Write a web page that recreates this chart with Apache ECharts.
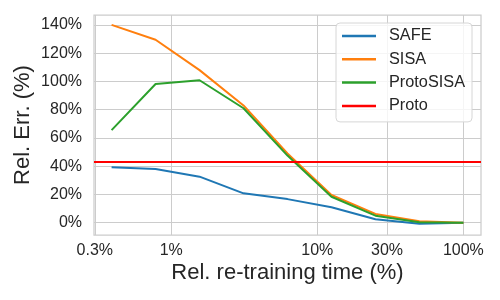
<!DOCTYPE html>
<html>
<head>
<meta charset="utf-8">
<script src="https://cdn.jsdelivr.net/npm/echarts@6/dist/echarts.min.js"></script>
<style>
html,body{margin:0;padding:0;background:#fff;}
#c{width:500px;height:300px;}
</style>
</head>
<body>
<div id="c"></div>
<script>
const retrainTime = [0.390625, 0.78125, 1.5625, 3.125, 6.25, 12.5, 25, 50, 100];
const safeErr = [39.2, 38.0, 32.6, 20.8, 16.7, 10.9, 2.4, -0.7, 0];
const sisaErr = [140, 129.5, 108, 83, 49, 19.6, 6.2, 1.0, 0];
const protoSisaErr = [65.5, 98.2, 100.8, 81, 47.5, 18.4, 5.0, 0.3, 0];
const protoErr = 43;
const xTicks = [0.3, 1, 10, 30, 100];
const yTicks = [0, 20, 40, 60, 80, 100, 120, 140];

const textColor = '#262626';
const gridColor = '#cccccc';
const fontFamily = '"Liberation Sans", Arial, sans-serif';

function pairs(xs, ys) { return xs.map((x, i) => [x, ys[i]]); }

const chart = echarts.init(document.getElementById('c'), null, {renderer: 'canvas'});
chart.setOption({
  animation: false,
  textStyle: {fontFamily: fontFamily, color: textColor},
  grid: {left: 94, right: 19, top: 15, bottom: 65, show: true, borderColor: gridColor, borderWidth: 1.25, backgroundColor: 'transparent'},
  xAxis: {
    type: 'log', logBase: 10, min: 0.296, max: 132,
    name: 'Rel. re-training time (%)', nameLocation: 'middle', nameGap: 26.5, nameMoveOverlap: false,
    nameTextStyle: {fontSize: 22, color: textColor, fontFamily: fontFamily},
    axisLine: {show: false},
    axisTick: {show: false, customValues: xTicks},
    axisLabel: {customValues: xTicks, formatter: v => v + '%', fontSize: 16, color: textColor, margin: 8, fontFamily: fontFamily},
    splitLine: {show: true, lineStyle: {color: gridColor, width: 1}},
    minorSplitLine: {show: false}
  },
  yAxis: {
    type: 'value', min: -8.7, max: 147,
    name: 'Rel. Err. (%)', nameLocation: 'middle', nameGap: 60, nameRotate: 90, nameMoveOverlap: false,
    nameTextStyle: {fontSize: 22, color: textColor, fontFamily: fontFamily},
    axisLine: {show: false},
    axisTick: {show: false, customValues: yTicks},
    axisLabel: {customValues: yTicks, formatter: v => v + '%', fontSize: 16, color: textColor, margin: 12, fontFamily: fontFamily},
    splitLine: {show: true, lineStyle: {color: gridColor, width: 1}}
  },
  legend: {
    left: 336, top: 23, orient: 'vertical',
    data: ['SAFE', 'SISA', 'ProtoSISA', 'Proto'],
    icon: 'rect', itemWidth: 34, itemHeight: 2.5, itemGap: 7.3,
    padding: [5, 7, 8, 6],
    backgroundColor: 'rgba(255,255,255,0.8)',
    borderColor: '#d6d6d6', borderWidth: 1, borderRadius: 4,
    textStyle: {fontSize: 16.3, color: textColor, fontFamily: fontFamily, lineHeight: 16, padding: [0, 0, 0, 8]}
  },
  series: [
    {name: 'SAFE', type: 'line', data: pairs(retrainTime, safeErr), showSymbol: false, color: '#1f77b4', lineStyle: {width: 2, color: '#1f77b4'}},
    {name: 'SISA', type: 'line', data: pairs(retrainTime, sisaErr), showSymbol: false, color: '#ff7f0e', lineStyle: {width: 2, color: '#ff7f0e'}},
    {name: 'ProtoSISA', type: 'line', data: pairs(retrainTime, protoSisaErr), showSymbol: false, color: '#2ca02c', lineStyle: {width: 2, color: '#2ca02c'}},
    {name: 'Proto', type: 'line', data: [], showSymbol: false, color: '#ff0000', lineStyle: {width: 2, color: '#ff0000'},
      markLine: {silent: true, symbol: ['none', 'none'], label: {show: false}, lineStyle: {color: '#ff0000', width: 2, type: 'solid'},
        data: [{yAxis: protoErr}]}}
  ]
});
</script>
</body>
</html>
